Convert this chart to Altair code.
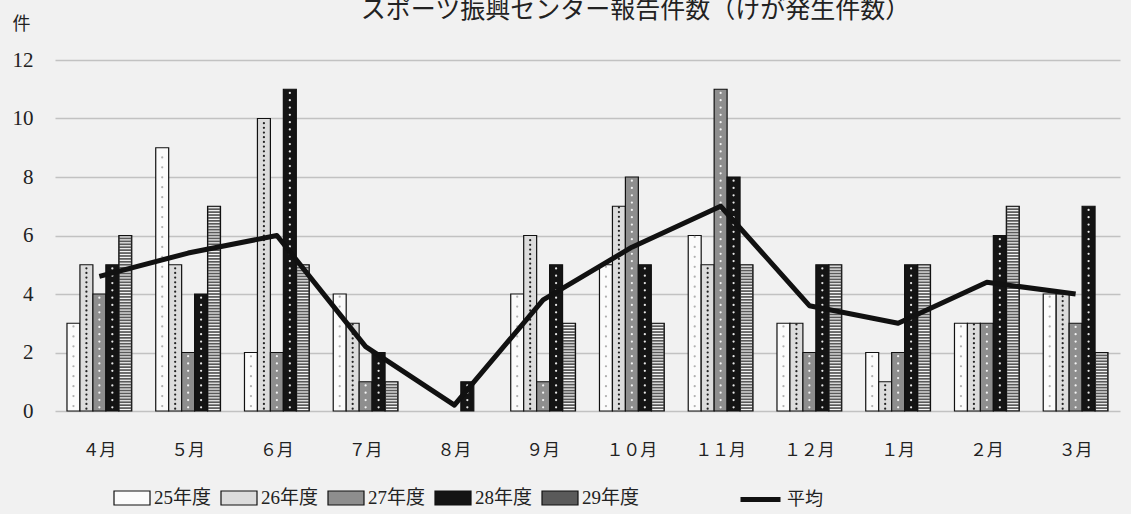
import altair as alt
import pandas as pd

months = ["４月", "５月", "６月", "７月", "８月", "９月", "１０月", "１１月", "１２月", "１月", "２月", "３月"]
years = ["25年度", "26年度", "27年度", "28年度", "29年度"]
v25 = [3, 9, 2, 4, 0, 4, 5, 6, 3, 2, 3, 4]
v26 = [5, 5, 10, 3, 0, 6, 7, 5, 3, 1, 3, 4]
v27 = [4, 2, 2, 1, 0, 1, 8, 11, 2, 2, 3, 3]
v28 = [5, 4, 11, 2, 1, 5, 5, 8, 5, 5, 6, 7]
v29 = [6, 7, 5, 1, 0, 3, 3, 5, 5, 5, 7, 2]
avg = [4.6, 5.4, 6.0, 2.2, 0.2, 3.8, 5.6, 7.0, 3.6, 3.0, 4.4, 4.0]
avg_name = "平均"
title_text = "スポーツ振興センター報告件数（けが発生件数）"
y_unit = "件"

series = [v25, v26, v27, v28, v29]
rows = []
for yr, vals in zip(years, series):
    for m, v in zip(months, vals):
        rows.append({"month": m, "year": yr, "value": v})
bars_df = pd.DataFrame(rows)
avg_df = pd.DataFrame({"month": months, "avg": avg, "series": [avg_name] * len(months)})

SERIF = "Liberation Serif, Noto Sans CJK JP"
JP = "Noto Sans CJK JP"

x_enc = alt.X("month:N", sort=months,
              scale=alt.Scale(paddingInner=0.27, paddingOuter=0.135),
              axis=alt.Axis(title=None, labelAngle=0, labelFont=JP, labelFontSize=17,
                            labelColor="#222", labelPadding=31, ticks=False, domain=False))
xo_enc = alt.XOffset("year:N", sort=years, scale=alt.Scale(domain=years))
y_scale = alt.Scale(domain=[0, 12])
y_axis = alt.Axis(values=[0, 2, 4, 6, 8, 10, 12], labelFont=SERIF, labelFontSize=21,
                  labelColor="#222", labelPadding=22, ticks=False, domain=False,
                  gridColor="#c2c2c2", gridWidth=1.5,
                  title=y_unit, titleAngle=0, titleX=-34, titleY=-36, titleFont=JP,
                  titleFontSize=18, titleFontWeight="normal", titleColor="#222",
                  titleAlign="center", titleBaseline="middle")

base = alt.Chart(bars_df).transform_filter(alt.datum.value > 0)

bars = base.mark_bar(stroke="#111", strokeWidth=1.2).encode(
    x=x_enc,
    xOffset=xo_enc,
    y=alt.Y("value:Q", scale=y_scale, axis=y_axis),
    fill=alt.Fill("year:N", sort=years,
                  scale=alt.Scale(domain=years,
                                  range=["#fbfbfb", "#dcdcdc", "#8e8e8e", "#141414", "#5a5a5a"]),
                  legend=alt.Legend(title=None, orient="none", legendX=67, legendY=428,
                                    direction="horizontal",
                                    symbolType="M-2,-0.78H2V0.78H-2Z", symbolSize=324,
                                    symbolStrokeColor="#111", symbolStrokeWidth=1.2,
                                    symbolOpacity=1,
                                    labelFont=SERIF, labelFontSize=19, labelColor="#222",
                                    labelOffset=12, columnPadding=6, labelLimit=200)),
)

# horizontal stripes for 29年度
stripes = base.transform_filter(
    alt.datum.year == "29年度"
).transform_calculate(
    s="sequence(0.05, datum.value, 0.1)"
).transform_flatten(["s"]).mark_tick(color="#f4f4f4", thickness=1.2, size=11, opacity=1).encode(
    x=alt.X("month:N", sort=months),
    xOffset=alt.XOffset("year:N", sort=years),
    y=alt.Y("s:Q"),
)

# dot textures
dots = base.transform_filter(
    alt.datum.year != "29年度"
).transform_calculate(
    step="datum.year == '26年度' ? 0.16 : (datum.year == '25年度' ? 0.34 : 0.25)"
).transform_calculate(
    s="sequence(datum.step / 2, datum.value, datum.step)"
).transform_flatten(["s"]).mark_point(filled=True, size=5, opacity=1).encode(
    x=alt.X("month:N", sort=months),
    xOffset=alt.XOffset("year:N", sort=years),
    y=alt.Y("s:Q"),
    color=alt.Color("year:N", sort=years,
                    scale=alt.Scale(domain=years[:4],
                                    range=["#b0b0b0", "#222222", "#f4f4f4", "#e8e8e8"]),
                    legend=None),
)

line = alt.Chart(avg_df).mark_line(strokeWidth=5, strokeJoin="round").encode(
    x=alt.X("month:N", sort=months),
    y=alt.Y("avg:Q"),
    stroke=alt.Stroke("series:N",
                      scale=alt.Scale(domain=[avg_name], range=["#111"]),
                      legend=alt.Legend(title=None, orient="none", legendX=683, legendY=417,
                                        symbolType="stroke", symbolStrokeWidth=5,
                                        symbolSize=1600,
                                        labelFont=JP, labelFontSize=18, labelColor="#222",
                                        labelOffset=4)),
)

chart = alt.layer(bars, stripes, dots, line).resolve_scale(
    color="independent", fill="independent"
).properties(
    width=1065, height=351,
    title=alt.TitleParams(title_text, font=JP, fontSize=25, fontWeight="normal",
                          color="#222", anchor="middle", frame="group", dx=48, dy=12),
    autosize=alt.AutoSizeParams(type="none"),
    padding={"left": 55, "top": 60, "right": 11, "bottom": 103},
    background="#f1f1f1",
).configure_view(stroke=None)

chart.save("out.html", embed_options={"renderer": "svg", "actions": False})
